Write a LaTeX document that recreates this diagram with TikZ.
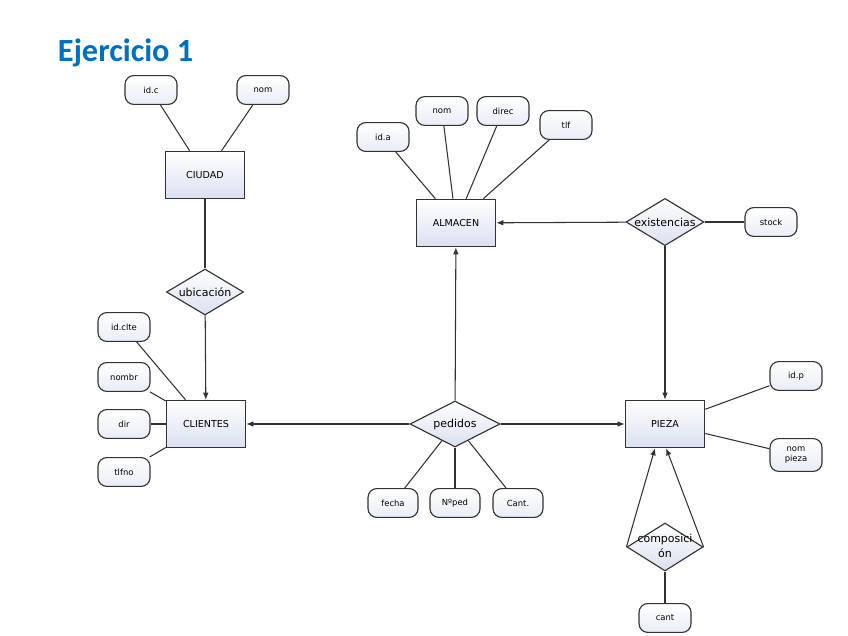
\documentclass[tikz,border=0pt]{standalone}
\usepackage{fontspec}
\setmainfont{DejaVu Sans}
\newfontfamily\titlefont{Carlito}
\usetikzlibrary{shapes.geometric,arrows.meta}
\definecolor{titleblue}{RGB}{0,112,192}
\definecolor{boxfill}{RGB}{218,224,240}
\definecolor{linegray}{RGB}{50,50,50}
\newcommand{\rtxt}[1]{\makebox[0pt]{#1}}
\begin{document}
\begin{tikzpicture}[x=0.025cm, y=-0.025cm,
	ent/.style={draw=linegray, line width=1.1pt, top color=white, bottom color=boxfill, minimum width=1.975cm, minimum height=1.175cm, font=\fontsize{6.8}{7.5}\selectfont},
	atr/.style={draw=linegray, line width=0.8pt, rounded corners=0.22cm, top color=white, bottom color=boxfill!60, minimum width=1.3cm, minimum height=0.72cm, inner sep=1pt, font=\fontsize{6}{7}\selectfont},
	rel/.style={diamond, draw=linegray, line width=0.8pt, top color=white, bottom color=boxfill, inner sep=0pt, font=\fontsize{7.8}{11}\selectfont},
	lnk/.style={draw=linegray, line width=0.75pt},
	arr/.style={lnk, -{Latex[length=5pt,width=4pt]}}]
	\useasboundingbox[fill=white] (0,0) rectangle (848,636);
	\node[anchor=base west, text=titleblue, font=\titlefont\bfseries\fontsize{23}{27}\selectfont] (title) at (53,62) {Ejercicio 1};
	% entidades
	\node[ent] (ciudad) at (205,175) {CIUDAD};
	\node[ent] (clientes) at (206,424) {CLIENTES};
	\node[ent] (almacen) at (456,223) {ALMACEN};
	\node[ent] (pieza) at (665,424) {PIEZA};
	% relaciones
	\node[rel, minimum width=1.925cm, minimum height=1.15cm] (ubic) at (205,292) {\rtxt{ubicación}};
	\node[rel, minimum width=2.25cm, minimum height=1.15cm] (pedidos) at (455,424) {\rtxt{pedidos}};
	\node[rel, minimum width=1.95cm, minimum height=1.18cm] (exist) at (665,222) {\rtxt{existencias}};
	\node[rel, minimum width=1.9cm, minimum height=1.2cm] (compos) at (665,547) {\rtxt{\begin{tabular}{@{}c@{}}composici\\ón\end{tabular}}};
	% atributos
	\node[atr] (idc) at (151,90) {id.c};
	\node[atr] (nomc) at (263,90) {nom};
	\node[atr] (idclte) at (124,327) {id.clte};
	\node[atr] (nombr) at (124,377) {nombr};
	\node[atr] (dir) at (124,424) {dir};
	\node[atr] (tlfno) at (124,472) {tlfno};
	\node[atr, minimum width=1.25cm] (fecha) at (393,503) {fecha};
	\node[atr, minimum width=1.25cm] (nped) at (455,503) {Nºped};
	\node[atr, minimum width=1.25cm] (cant) at (518,503) {Cant.};
	\node[atr] (ida) at (383,137) {id.a};
	\node[atr] (noma) at (442,111) {nom};
	\node[atr] (direc) at (503,111) {direc};
	\node[atr] (tlf) at (566,125) {tlf};
	\node[atr] (stock) at (771,222) {stock};
	\node[atr] (idp) at (796,376) {id.p};
	\node[atr, align=center, minimum height=0.82cm] (nompieza) at (796,455) {nom\\pieza};
	\node[atr] (cantc) at (665,618) {cant};
	% conexiones
	\draw[lnk] (idc) -- (ciudad);
	\draw[lnk] (nomc) -- (ciudad);
	\draw[lnk] (ciudad) -- (ubic);
	\draw[arr] (ubic) -- (clientes);
	\foreach \a in {idclte,nombr,dir,tlfno} \draw[lnk] (\a) -- (clientes);
	\foreach \a in {ida,noma,direc,tlf} \draw[lnk] (\a) -- (almacen);
	\foreach \a in {fecha,nped,cant} \draw[lnk] (\a) -- (pedidos);
	\draw[arr] (pedidos) -- (clientes);
	\draw[arr] (pedidos) -- (pieza);
	\draw[arr] (pedidos) -- (almacen);
	\draw[arr] (exist) -- (almacen);
	\draw[arr] (exist) -- (pieza);
	\draw[lnk] (exist) -- (stock);
	\draw[lnk] (idp) -- (pieza);
	\draw[lnk] (nompieza) -- (pieza);
	\draw[arr] (compos.west) -- ([xshift=-0.25cm]pieza.south);
	\draw[arr] (compos.east) -- ([xshift=0.03cm]pieza.south);
	\draw[lnk] (compos) -- (cantc);
\end{tikzpicture}
\end{document}
